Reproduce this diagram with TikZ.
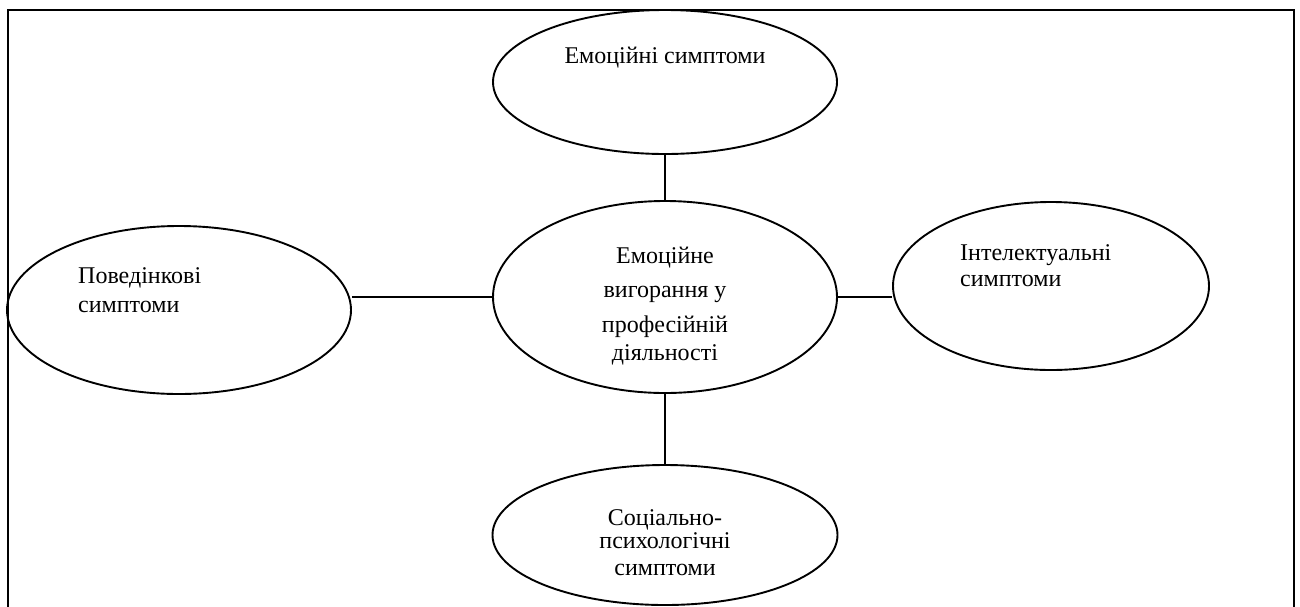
\documentclass[tikz,border=0pt]{standalone}
\usepackage{fontspec}
\setmainfont{Liberation Serif}
\usetikzlibrary{shapes.geometric}
\begin{document}
\begin{tikzpicture}[x=1pt,y=-1pt,
  oval/.style={draw=black,ellipse,line width=1.9pt,inner sep=0pt,fill=none},
  txt/.style={inner sep=0pt,font=\fontsize{24}{27}\selectfont},
  conn/.style={draw=black,line width=1.9pt}]
\useasboundingbox (0,0) rectangle (1300,606);
% frame
\coordinate (fbl) at (8,625);
\coordinate (ftl) at (8,10);
\coordinate (ftr) at (1294,10);
\coordinate (fbr) at (1294,625);
\draw[line width=2.3pt] (fbl) -- (ftl) -- (ftr) -- (fbr);
% ellipses
\node[oval,minimum width=344pt,minimum height=144pt] (top) at (665,82) {};
\node[oval,minimum width=344pt,minimum height=192pt] (cen) at (665,297) {};
\node[oval,minimum width=345pt,minimum height=140pt] (bot) at (665,535) {};
\node[oval,minimum width=344pt,minimum height=168pt] (lft) at (179,310) {};
\node[oval,minimum width=316pt,minimum height=168pt] (rgt) at (1051,286) {};
% connectors
\draw[conn] (top.south) -- (cen.north);
\draw[conn] (cen.south) -- (bot.north);
\draw[conn] (cen.west) -- (cen.west -| lft.east);
\draw[conn] (cen.east) -- (cen.east -| rgt.west);
% texts
\node[txt,anchor=base] (t1) at (665,63) {Емоційні симптоми};
\node[txt,anchor=base] (c1) at (665,263) {Емоційне};
\node[txt,anchor=base] (c2) at (665,297) {вигорання у};
\node[txt,anchor=base] (c3) at (665,332) {професійній};
\node[txt,anchor=base] (c4) at (665,360) {діяльності};
\node[txt,anchor=base west] (l1) at (78,283) {Поведінкові};
\node[txt,anchor=base west] (l2) at (78,312) {симптоми};
\node[txt,anchor=base west] (r1) at (960,260) {Інтелектуальні};
\node[txt,anchor=base west] (r2) at (960,286) {симптоми};
\node[txt,anchor=base] (b1) at (665,525) {Соціально-};
\node[txt,anchor=base] (b2) at (665,548) {психологічні};
\node[txt,anchor=base] (b3) at (665,575) {симптоми};
\end{tikzpicture}
\end{document}
